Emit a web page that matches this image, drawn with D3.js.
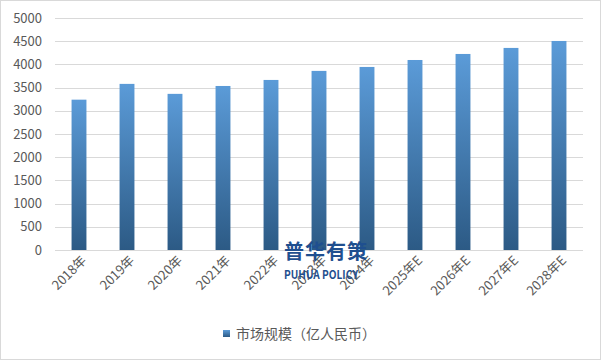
<!DOCTYPE html>
<html><head><meta charset="utf-8">
<script src="https://cdn.jsdelivr.net/npm/d3@7/dist/d3.min.js"></script>
<style>body{margin:0;background:#fff}svg{display:block}text{font-family:"Microsoft YaHei","Noto Sans CJK SC",sans-serif}</style>
</head><body><svg id="c" width="601" height="361"></svg>
<script>
const categories = ["2018年","2019年","2020年","2021年","2022年","2023年","2024年","2025年E","2026年E","2027年E","2028年E"];
const values = [3240, 3580, 3365, 3535, 3665, 3860, 3945, 4095, 4225, 4355, 4505];
const yTicks = [0,500,1000,1500,2000,2500,3000,3500,4000,4500,5000];
const seriesName = "市场规模（亿人民币）";

const svg = d3.select("#c");
svg.append("rect").attr("x",0.5).attr("y",0.5).attr("width",600).attr("height",359).attr("fill","#fff").attr("stroke","#d9d9d9");

const defs = svg.append("defs");
const g = defs.append("linearGradient").attr("id","bg").attr("x1",0).attr("y1",0).attr("x2",0).attr("y2",1);
g.append("stop").attr("offset","0%").attr("stop-color","#5b9bd8");
g.append("stop").attr("offset","100%").attr("stop-color","#2c5a85");

const x = d3.scaleBand().domain(categories).range([55,583]).paddingInner(0.69).paddingOuter(0.345);
const y = d3.scaleLinear().domain([0,5000]).range([250,18]);

svg.append("g").selectAll("line").data(yTicks).join("line")
  .attr("x1",55).attr("x2",583).attr("y1",d=>Math.round(y(d))+0.5).attr("y2",d=>Math.round(y(d))+0.5)
  .attr("stroke","#d9d9d9").attr("stroke-width",1);

svg.append("g").selectAll("text").data(yTicks).join("text")
  .attr("x",42).attr("y",d=>y(d)).attr("dy","0.35em").attr("text-anchor","end")
  .attr("font-size",13).attr("fill","#595959").text(d=>d);

svg.append("g").selectAll("rect").data(values).join("rect")
  .attr("x",(d,i)=>x(categories[i])).attr("width",x.bandwidth())
  .attr("y",d=>y(d)).attr("height",d=>y(0)-y(d)).attr("fill","url(#bg)");

svg.append("g").selectAll("text").data(categories).join("text")
  .attr("transform",d=>`translate(${x(d)+x.bandwidth()/2+5},${258}) rotate(-45)`)
  .attr("text-anchor","end").attr("dy","0.35em").attr("font-size",13).attr("fill","#595959").text(d=>d);

// watermark
svg.append("text").attr("x",284).attr("y",259).attr("font-size",20).attr("font-weight","bold")
  .attr("fill","#1f4f8f").attr("letter-spacing",1).text("普华有策");
svg.append("text").attr("x",284).attr("y",279).attr("font-size",12).attr("font-weight","bold")
  .attr("fill","#1f4f8f").attr("font-family","'Liberation Sans',Arial,sans-serif")
  .attr("textLength",74).attr("lengthAdjust","spacingAndGlyphs").text("PUHUA POLICY");

// legend
svg.append("rect").attr("x",223).attr("y",330).attr("width",7).attr("height",7).attr("fill","url(#bg)");
svg.append("text").attr("x",236).attr("y",334).attr("dy","0.35em").attr("font-size",14).attr("fill","#595959").text(seriesName);
</script></body></html>
